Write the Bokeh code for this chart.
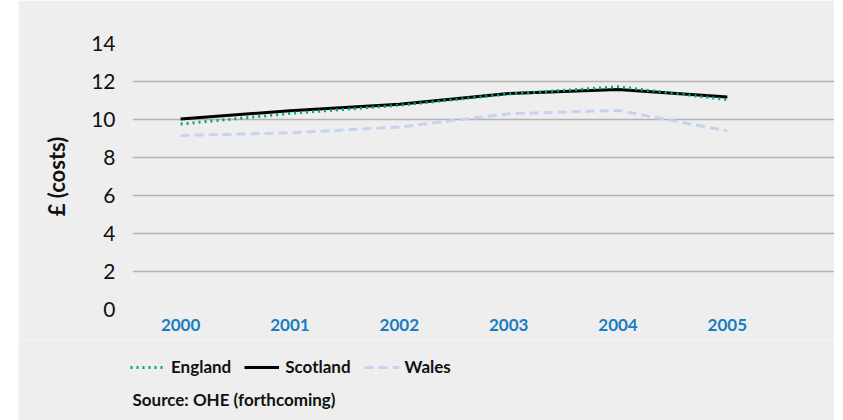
from bokeh.plotting import figure
from bokeh.models import Range1d, FixedTicker, Legend, LegendItem, Label, Spacer
from bokeh.layouts import row, column
from bokeh.embed import file_html
from bokeh.resources import INLINE

years = ["2000", "2001", "2002", "2003", "2004", "2005"]
england = [9.76, 10.32, 10.75, 11.34, 11.72, 11.05]
scotland = [10.02, 10.46, 10.8, 11.37, 11.58, 11.18]
wales = [9.16, 9.3, 9.6, 10.3, 10.48, 9.4]
y_ticks = [0, 2, 4, 6, 8, 10, 12, 14]
series_names = ["England", "Scotland", "Wales"]
source_text = "Source: OHE (forthcoming)"

xs = list(range(len(years)))
BG = "#eeeeee"
FONT = "Lato"
styles = {
    "England": dict(line_color="#00a38c", line_width=3, line_dash="2 4"),
    "Scotland": dict(line_color="#000000", line_width=3),
    "Wales": dict(line_color="#c5d3ee", line_width=3, line_dash="9 5"),
}

W = 816
p = figure(width=W, height=340, output_backend="svg", toolbar_location=None,
           x_range=Range1d(-0.44, 5.98), y_range=Range1d(0, 14),
           min_border_left=114, min_border_right=0, min_border_top=43, min_border_bottom=31,
           background_fill_color=BG, border_fill_color=BG)
p.outline_line_color = None

p.xaxis.ticker = FixedTicker(ticks=xs)
p.xaxis.major_label_overrides = {i: y for i, y in enumerate(years)}
p.xaxis.major_label_text_font = FONT
p.xaxis.major_label_text_font_style = "bold"
p.xaxis.major_label_text_font_size = "17px"
p.xaxis.major_label_text_color = "#1a7dc0"
p.xaxis.major_label_standoff = 3
p.xaxis.axis_line_color = None
p.xaxis.major_tick_line_color = None
p.xaxis.minor_tick_line_color = None
p.xgrid.grid_line_color = None

p.yaxis.ticker = FixedTicker(ticks=y_ticks)
p.yaxis.major_label_text_font = FONT
p.yaxis.major_label_text_font_size = "21px"
p.yaxis.major_label_text_color = "#111111"
p.yaxis.major_label_standoff = 11
p.yaxis.axis_line_color = None
p.yaxis.major_tick_line_color = None
p.yaxis.minor_tick_line_color = None
p.yaxis.axis_label = "£ (costs)"
p.yaxis.axis_label_text_font = FONT
p.yaxis.axis_label_text_font_style = "bold"
p.yaxis.axis_label_text_font_size = "22px"
p.yaxis.axis_label_text_color = "#111111"
p.yaxis.axis_label_standoff = 18
p.ygrid.grid_line_color = "#b3b3b3"
p.ygrid.grid_line_width = 1.5

data = {"England": england, "Scotland": scotland, "Wales": wales}
for name in ["Wales", "Scotland", "England"]:
    p.line(xs, data[name], **styles[name])

# second panel below holding the legend and the source note
H2 = 80
p2 = figure(width=W, height=H2, output_backend="svg", toolbar_location=None,
            x_range=Range1d(0, W), y_range=Range1d(0, H2),
            min_border=0, background_fill_color=BG, border_fill_color=BG)
p2.outline_line_color = None
p2.axis.visible = False
p2.grid.visible = False

nan = float("nan")
items = []
for name in series_names:
    r = p2.line([nan], [nan], **styles[name])
    items.append(LegendItem(label=name, renderers=[r]))

legend = Legend(items=items, orientation="horizontal", location=(112, 43),
                background_fill_alpha=0, border_line_color=None,
                padding=0, margin=0, spacing=13, glyph_width=35, label_standoff=6,
                label_text_font=FONT, label_text_font_style="bold",
                label_text_font_size="17px", label_text_color="#111111")
p2.add_layout(legend)

src = Label(x=114, y=21, text=source_text,
            text_font=FONT, text_font_style="bold", text_font_size="17px",
            text_color="#111111", text_baseline="middle")
p2.add_layout(src)

layout = column(row(Spacer(width=18, height=340), p),
                row(Spacer(width=18, height=H2), p2), spacing=0)
open("out.html", "w").write(file_html(layout, INLINE))
